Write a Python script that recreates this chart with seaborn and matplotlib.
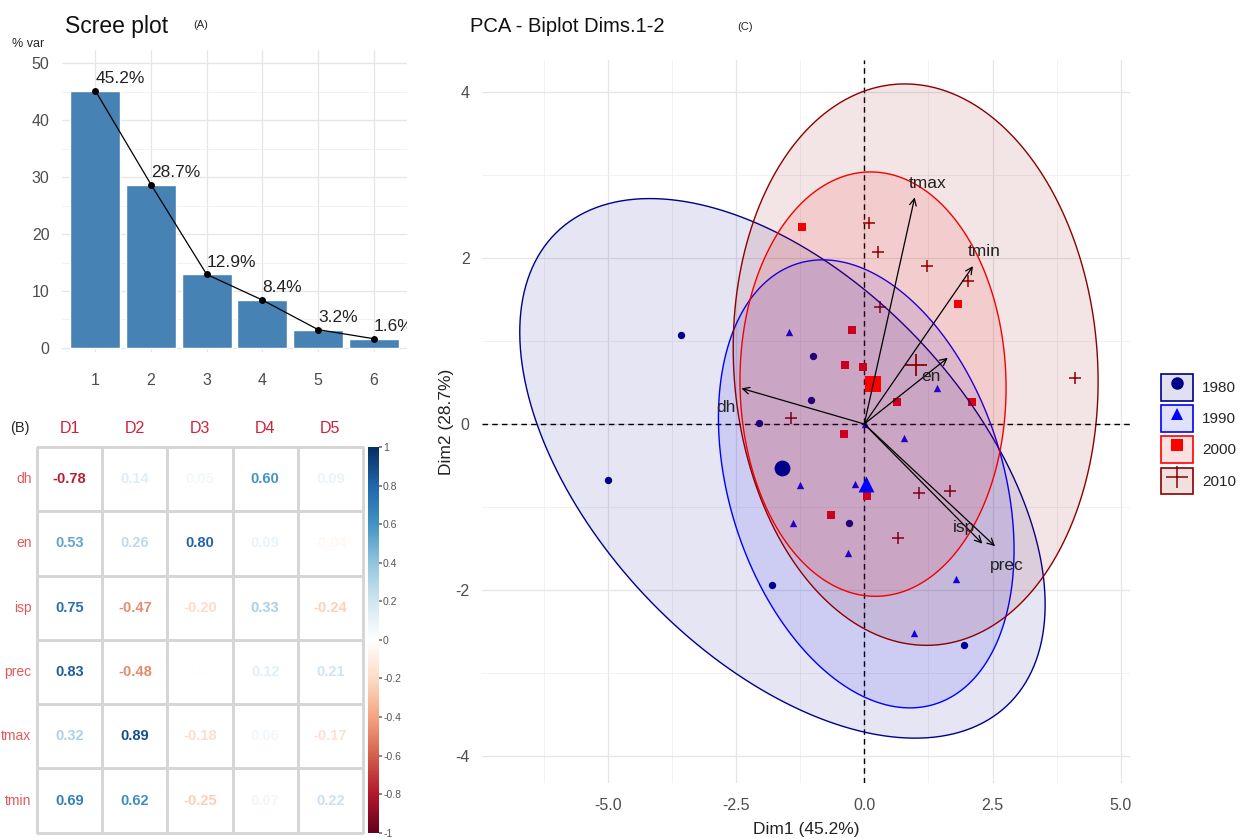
import numpy as np
import pandas as pd
import matplotlib
matplotlib.use('Agg')
import matplotlib.pyplot as plt
import seaborn as sns
from matplotlib.colors import LinearSegmentedColormap, ListedColormap, to_rgba
from matplotlib.patches import Patch
from matplotlib.lines import Line2D
from matplotlib.legend_handler import HandlerTuple
from matplotlib.cm import ScalarMappable
from matplotlib.colors import Normalize

# ---- data ----
dims = ['1', '2', '3', '4', '5', '6']
pct_var = [45.2, 28.7, 12.9, 8.4, 3.2, 1.6]

variables = ['dh', 'en', 'isp', 'prec', 'tmax', 'tmin']
comp_names = ['D1', 'D2', 'D3', 'D4', 'D5']
cor_d1 = [-0.78, 0.53, 0.75, 0.83, 0.32, 0.69]
cor_d2 = [0.14, 0.26, -0.47, -0.48, 0.89, 0.62]
cor_d3 = [0.05, 0.80, -0.20, 0.00, -0.18, -0.25]
cor_d4 = [0.60, 0.09, 0.33, 0.12, 0.06, 0.07]
cor_d5 = [0.09, -0.04, -0.24, 0.21, -0.17, 0.22]

years = ['1980', '1990', '2000', '2010']
x_1980 = [-3.57, -4.99, -0.99, -1.03, -2.05, -0.29, -1.79, 1.95]
y_1980 = [1.07, -0.67, 0.82, 0.29, 0.01, -1.19, -1.94, -2.67]
x_1990 = [-1.46, 0.78, -1.25, -0.19, -1.38, -0.31, 1.79, 0.96, 1.42, 0.02]
y_1990 = [1.11, -0.17, -0.74, -0.72, -1.19, -1.55, -1.87, -2.52, 0.43, 0.00]
x_2000 = [-1.22, -0.24, -0.38, -0.02, 1.83, 0.63, 2.09, -0.40, 0.06, -0.65]
y_2000 = [2.38, 1.13, 0.71, 0.69, 1.45, 0.27, 0.27, -0.12, -0.87, -1.10]
x_2010 = [0.10, 0.26, 1.23, 2.03, 0.31, 4.10, -1.42, 1.06, 1.68, 0.66]
y_2010 = [2.42, 2.08, 1.91, 1.73, 1.41, 0.55, 0.07, -0.83, -0.81, -1.37]

arrow_scale = 3.07

# ---- style ----
sns.set_theme(style='whitegrid')
plt.rcParams['font.family'] = ['Liberation Sans', 'DejaVu Sans']
plt.rcParams['axes.unicode_minus'] = False
tick_col = '#4D4D4D'
grid_col = '#E6E6E6'

fig = plt.figure(figsize=(12.44, 8.39), dpi=100)

# ================= (A) scree plot =================
ax_a = fig.add_axes([0.0498, 0.58, 0.2775, 0.36])
sns.barplot(x=dims, y=pct_var, color='#4682B4', saturation=1, width=0.9, ax=ax_a)
sns.lineplot(x=np.arange(len(dims)), y=pct_var, color='black', marker='o',
             markersize=5, markeredgewidth=0, linewidth=0.9, ax=ax_a)
for i, v in enumerate(pct_var):
    t = ax_a.text(i, v + 0.8, f'{v}%', ha='left', va='bottom', fontsize=12.5,
                  color='#222222')
    t.set_clip_on(True)
ax_a.set_xlim(-0.6, 5.6)
ax_a.set_ylim(-0.8, 52.3)
ax_a.set_yticks([0, 10, 20, 30, 40, 50])
ax_a.set_yticks([5, 15, 25, 35, 45], minor=True)
ax_a.grid(True, which='major', color=grid_col, lw=0.9)
ax_a.grid(True, which='minor', axis='y', color='#F0F0F0', lw=0.6)
ax_a.set_axisbelow(True)
ax_a.set_xlabel('')
ax_a.set_ylabel('')
sns.despine(ax=ax_a, left=True, bottom=True)
ax_a.tick_params(axis='both', which='major', labelsize=11.5, labelcolor=tick_col,
                 length=3, width=0.8, color='#333333', pad=6)
ax_a.tick_params(axis='x', pad=12)
ax_a.tick_params(which='minor', length=0)
fig.text(65 / 1244, 1 - 27 / 839, 'Scree plot', fontsize=16.5, va='center', color='#111111')
fig.text(193 / 1244, 1 - 25 / 839, '(A)', fontsize=8, va='center')
fig.text(12 / 1244, 1 - 44 / 839, '% var', fontsize=9, va='center')

# ================= (B) correlation table =================
cor_df = pd.DataFrame({'D1': cor_d1, 'D2': cor_d2, 'D3': cor_d3,
                       'D4': cor_d4, 'D5': cor_d5}, index=variables)
corr_cmap = LinearSegmentedColormap.from_list(
    'corrRdBu', ['#67001F', '#B2182B', '#D6604D', '#F4A582', '#FDDBC7', '#FFFFFF',
                 '#D1E5F0', '#92C5DE', '#4393C3', '#2166AC', '#053061'])
ax_b = fig.add_axes([0.0297, 0.0075, 0.2621, 0.4597])
sns.heatmap(cor_df, cmap=ListedColormap(['white']), annot=True, fmt='.2f',
            cbar=False, linewidths=1, linecolor='#D6D6D6', ax=ax_b,
            annot_kws={'fontsize': 10.5, 'fontweight': 'bold'})
vals = cor_df.values.flatten()
for txt, v in zip(ax_b.texts, vals):
    txt.set_color(corr_cmap((v + 1) / 2))
ax_b.xaxis.tick_top()
ax_b.tick_params(axis='x', length=0, labelsize=11.5, labelcolor='#D0213A', pad=8)
ax_b.tick_params(axis='y', length=0, labelsize=10, labelcolor='#E25A5C', pad=4,
                 labelrotation=0)
ax_b.set_xlabel('')
ax_b.set_ylabel('')
for c in ax_b.collections:
    c.set_clip_on(False)
fig.text(20 / 1244, 1 - 428 / 839, '(B)', fontsize=10.5, va='center', ha='center')

cax = fig.add_axes([0.2958, 0.0075, 0.0088, 0.4597])
cb = fig.colorbar(ScalarMappable(norm=Normalize(-1, 1), cmap=corr_cmap), cax=cax)
cb.outline.set_visible(False)
cb.set_ticks(np.round(np.arange(-1, 1.01, 0.2), 1))
cb.set_ticklabels(['-1', '-0.8', '-0.6', '-0.4', '-0.2', '0', '0.2', '0.4', '0.6', '0.8', '1'])
cax.tick_params(labelsize=7.5, labelcolor='#555555', length=2, color='#777777', pad=1)

# ================= (C) biplot =================
ax_c = fig.add_axes([0.3875, 0.0667, 0.5205, 0.8618])
colors = {'1980': '#00008B', '1990': '#0000FF', '2000': '#FF0000', '2010': '#8B0000'}
markers = {'1980': 'o', '1990': '^', '2000': 's', '2010': '+'}
xs = {'1980': x_1980, '1990': x_1990, '2000': x_2000, '2010': x_2010}
ys = {'1980': y_1980, '1990': y_1990, '2000': y_2000, '2010': y_2010}

ax_c.axhline(0, color='black', ls=(0, (4, 3)), lw=1, zorder=1.5)
ax_c.axvline(0, color='black', ls=(0, (4, 3)), lw=1, zorder=1.5)

r95 = np.sqrt(-2 * np.log(1 - 0.95))
tt = np.linspace(0, 2 * np.pi, 200)
for yr in years:
    x = np.array(xs[yr])
    y = np.array(ys[yr])
    col = colors[yr]
    if markers[yr] == '+':
        sns.scatterplot(x=x, y=y, marker='+', color=col, s=70, linewidth=1.1,
                        ax=ax_c, zorder=2)
    else:
        sns.scatterplot(x=x, y=y, marker=markers[yr], color=col, s=28,
                        linewidth=0, ax=ax_c, zorder=2)
    cov = np.cov(x, y)
    ev, evec = np.linalg.eigh(cov)
    circ = np.vstack([np.cos(tt), np.sin(tt)])
    pts = evec @ (np.sqrt(ev)[:, None] * circ) * r95
    ex = x.mean() + pts[0]
    ey = y.mean() + pts[1]
    ax_c.fill(ex, ey, facecolor=to_rgba(col, 0.1), edgecolor=col, lw=1, zorder=3)

for yr in years:
    col = colors[yr]
    mx, my = np.mean(xs[yr]), np.mean(ys[yr])
    if markers[yr] == '+':
        sns.scatterplot(x=[mx], y=[my], marker='+', color=col, s=260, linewidth=1.3,
                        ax=ax_c, zorder=4)
    else:
        sns.scatterplot(x=[mx], y=[my], marker=markers[yr], color=col, s=130,
                        linewidth=0, ax=ax_c, zorder=4)

label_offsets = {'dh': (-0.30, -0.23), 'en': (-0.32, -0.22), 'isp': (-0.35, 0.19),
                 'prec': (0.22, -0.23), 'tmax': (0.25, 0.17), 'tmin': (0.22, 0.18)}
for v, c1, c2 in zip(variables, cor_d1, cor_d2):
    tx, ty = c1 * arrow_scale, c2 * arrow_scale
    ax_c.annotate('', xy=(tx, ty), xytext=(0, 0),
                  arrowprops=dict(arrowstyle='->', lw=0.9, color='black',
                                  shrinkA=0, shrinkB=0, mutation_scale=12), zorder=5)
    ox, oy = label_offsets[v]
    ax_c.text(tx + ox, ty + oy, v, fontsize=12.5, color='#222222', ha='center',
              va='center', zorder=6)

ax_c.set_xlim(-7.45, 5.17)
ax_c.set_ylim(-4.33, 4.39)
ax_c.set_xticks([-5, -2.5, 0, 2.5, 5])
ax_c.set_xticklabels(['-5.0', '-2.5', '0.0', '2.5', '5.0'])
ax_c.set_xticks([-6.25, -3.75, -1.25, 1.25, 3.75], minor=True)
ax_c.set_yticks([-4, -2, 0, 2, 4])
ax_c.set_yticks([-3, -1, 1, 3], minor=True)
ax_c.grid(True, which='major', color=grid_col, lw=0.9)
ax_c.grid(True, which='minor', color='#F0F0F0', lw=0.6)
ax_c.set_axisbelow(True)
sns.despine(ax=ax_c, left=True, bottom=True)
ax_c.tick_params(axis='both', which='major', labelsize=11.5, labelcolor=tick_col,
                 length=3, width=0.8, color='#333333', pad=6)
ax_c.tick_params(axis='x', pad=8)
ax_c.tick_params(which='minor', length=0)
ax_c.set_xlabel('Dim1 (45.2%)', fontsize=12.5, color='#222222', labelpad=6)
ax_c.set_ylabel('Dim2 (28.7%)', fontsize=12.5, color='#222222', labelpad=1)
fig.text(470 / 1244, 1 - 27 / 839, 'PCA - Biplot Dims.1-2', fontsize=14.5,
         va='center', color='#111111')
fig.text(737 / 1244, 1 - 27 / 839, '(C)', fontsize=8, va='center')

handles = []
for yr in years:
    col = colors[yr]
    box = Patch(facecolor=to_rgba(col, 0.12), edgecolor=col, lw=1.2)
    if markers[yr] == '+':
        mk = Line2D([], [], marker='+', color=col, ls='', markersize=16, mew=1.1)
    else:
        mk = Line2D([], [], marker=markers[yr], color=col, ls='', markersize=9, mew=0)
    handles.append((box, mk))
fig.legend(handles, years, handler_map={tuple: HandlerTuple(ndivide=1)},
           loc='upper left', bbox_to_anchor=(1155 / 1244, 1 - 368 / 839),
           frameon=False, fontsize=11, handlelength=2.1, handleheight=2.3,
           labelspacing=0.3, handletextpad=0.6, borderaxespad=0)

fig.savefig('out.png', dpi=100)
